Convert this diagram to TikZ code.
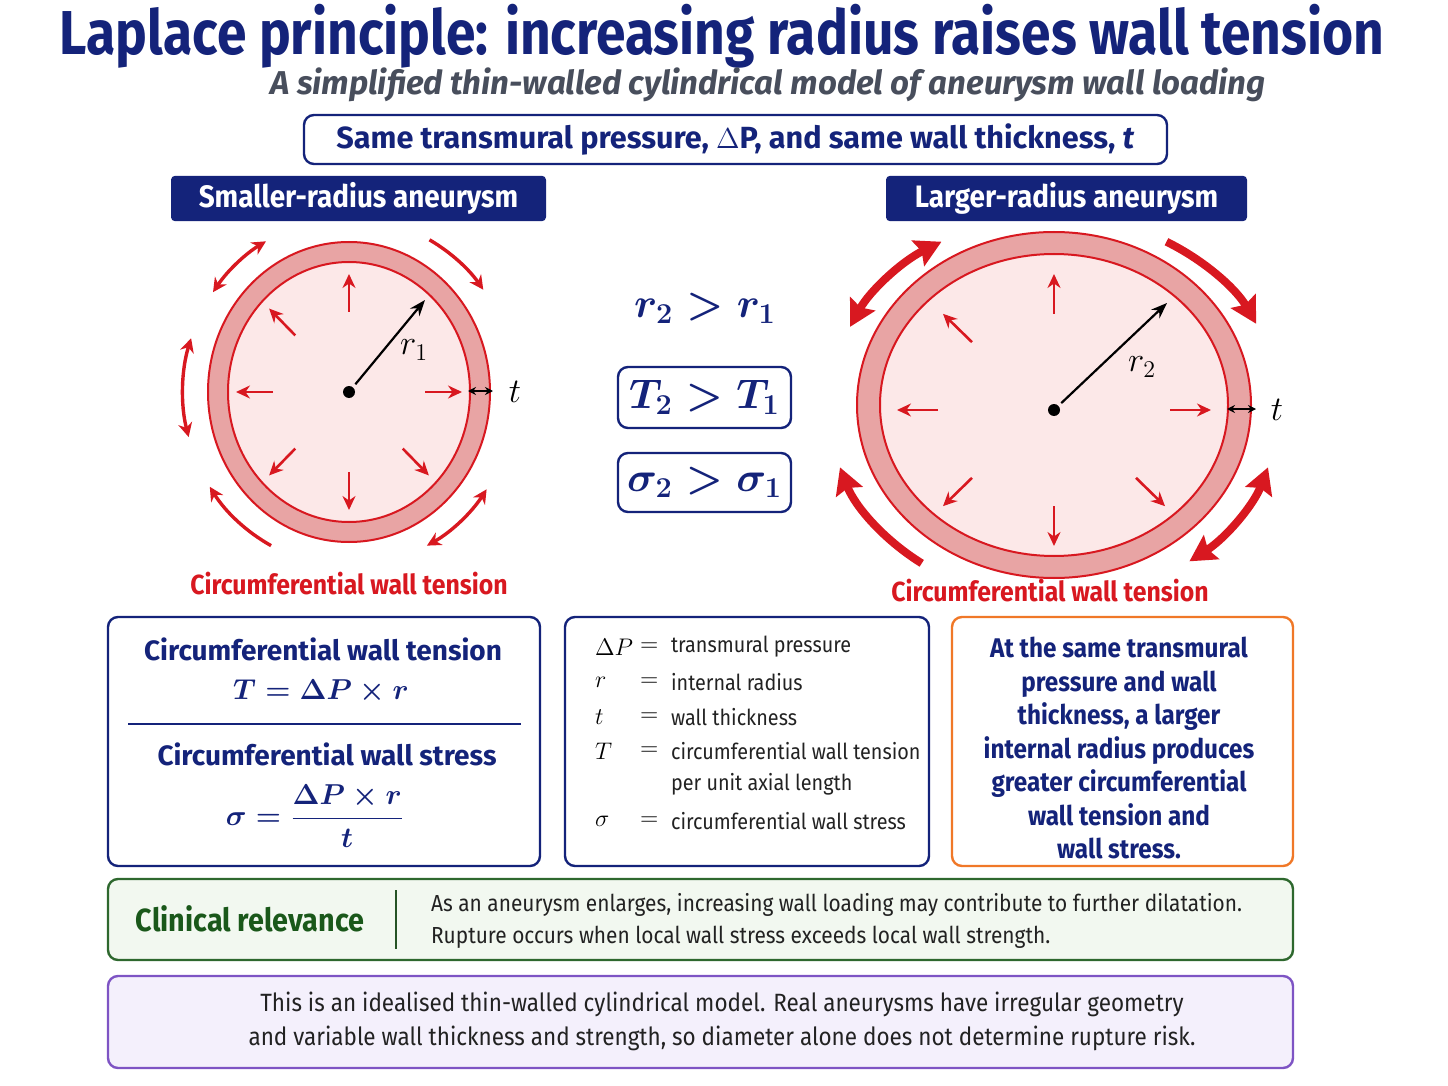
\documentclass[tikz,border=0pt]{standalone}
\usepackage{amsmath}
\usepackage{fontspec}
\setmainfont{Fira Sans}[FakeStretch=0.90]
\newfontfamily\titlefont{Fira Sans}[FakeStretch=0.86]
\newfontfamily\widefont{Fira Sans}[FakeStretch=1.0]
\usetikzlibrary{arrows.meta,positioning}

\definecolor{navy}{RGB}{20,35,122}
\definecolor{wallred}{RGB}{216,24,32}
\definecolor{wallfill}{RGB}{232,164,164}
\definecolor{lumenfill}{RGB}{252,232,232}
\definecolor{subgrey}{RGB}{72,78,92}
\definecolor{boxorange}{RGB}{240,120,40}
\definecolor{boxgreen}{RGB}{46,104,46}
\definecolor{greenfill}{RGB}{242,248,240}
\definecolor{greentext}{RGB}{26,88,26}
\definecolor{boxpurple}{RGB}{126,84,196}
\definecolor{purplefill}{RGB}{244,240,252}
\definecolor{inkgrey}{RGB}{34,34,34}

\begin{document}
\begin{tikzpicture}[x=0.5pt,y=0.5pt,
    maintitle/.style={font=\titlefont\bfseries\fontsize{31}{36}\selectfont,text=navy},
    subtitle/.style={font=\widefont\bfseries\itshape\fontsize{16.5}{20}\selectfont,text=subgrey},
    framebox/.style={draw=navy,line width=1.2pt,rounded corners=5pt,fill=white},
    tagbox/.style={fill=navy,rounded corners=2pt,text=white,
        font=\bfseries\fontsize{15.5}{18}\selectfont,minimum width=187.5pt,minimum height=20.5pt},
    headtext/.style={font=\widefont\bfseries\fontsize{14}{17}\selectfont,text=navy},
    redlabel/.style={font=\bfseries\fontsize{13.8}{16}\selectfont,text=wallred},
    wall/.style={draw=wallred,line width=1pt,fill=wallfill},
    lumen/.style={draw=wallred,line width=1pt,fill=lumenfill},
    parrow/.style={wallred,line width=1.3pt,-{Stealth[length=7pt,width=6.5pt]}},
    radarrow/.style={line width=1.1pt,-{Stealth[length=8pt,width=6pt]}},
    tarrow/.style={line width=1pt,{Stealth[length=4pt,width=4pt]}-{Stealth[length=4pt,width=4pt]}},
    tens/.style={wallred,line width=1.7pt},
    bigtens/.style={wallred,line width=4pt},
    onetip/.style={arrows={-Stealth[length=7pt,width=7pt]}},
    twotips/.style={arrows={Stealth[length=7pt,width=7pt]-Stealth[length=7pt,width=7pt]}},
    bigonetip/.style={arrows={-Stealth[length=13pt,width=14pt,inset=2pt]}},
    bigtwotips/.style={arrows={Stealth[length=13pt,width=14pt,inset=2pt]-Stealth[length=13pt,width=14pt,inset=2pt]}},
    mathtext/.style={font=\fontsize{14.5}{17}\selectfont\boldmath,text=navy},
    cmptext/.style={text=navy,font=\fontsize{20}{24}\selectfont\boldmath},
    legsym/.style={font=\fontsize{12.5}{15}\selectfont,anchor=west,text=black},
    legtext/.style={font=\fontsize{11}{15}\selectfont,anchor=west,text=inkgrey,align=left},
  ]
  \useasboundingbox (0,0) rectangle (1448,-1086);

  % heading
  \node[maintitle] (title) at (722,-36) {Laplace principle: increasing radius raises wall tension};
  \node[subtitle] (sub) at (768,-85) {A simplified thin-walled cylindrical model of aneurysm wall loading};
  \node[framebox,font=\widefont\bfseries\fontsize{15.3}{18}\selectfont,text=navy,
        minimum width=431.5pt,minimum height=24.5pt] (same) at (735.5,-139.5)
    {Same transmural pressure, $\Delta$P, and same wall thickness, \textit{t}};

  % smaller radius
  \node[tagbox] (tagS) at (358.5,-198.5) {Smaller-radius aneurysm};
  \coordinate (c1) at (349,-392);
  \draw[wall] (c1) ellipse [x radius=141,y radius=150];
  \draw[lumen] (c1) ellipse [x radius=121,y radius=130];
  \foreach \a in {0,90,135,...,315}
    \draw[parrow] ([shift={(\a:76 and 80)}]c1) -- ([shift={(\a:113 and 118)}]c1);
  \draw[radarrow,shorten <=5pt] (c1) -- ++(76,92) coordinate (r1end);
  \fill (c1) circle [radius=6];
  \node[font=\fontsize{17}{20}\selectfont] (r1) at (414,-350) {$r_1$};
  \coordinate (t1a) at (468,-391);
  \coordinate (t1b) at (493,-391);
  \draw[tarrow] (t1a) -- (t1b);
  \node[font=\fontsize{17}{20}\selectfont] (t1) at (515,-392) {$t$};
  % tension arcs
  \draw[tens,twotips] ([shift={(145:166 and 174)}]c1) arc [start angle=145,end angle=120,x radius=166,y radius=174];
  \draw[tens,onetip] ([shift={(61:166 and 174)}]c1) arc [start angle=61,end angle=36,x radius=166,y radius=174];
  \draw[tens,twotips] ([shift={(162:166 and 174)}]c1) arc [start angle=162,end angle=195,x radius=166,y radius=174];
  \draw[tens,onetip] ([shift={(242:166 and 174)}]c1) arc [start angle=242,end angle=213,x radius=166,y radius=174];
  \draw[tens,twotips] ([shift={(326:166 and 174)}]c1) arc [start angle=326,end angle=298,x radius=166,y radius=174];
  \node[redlabel] (tenS) at (349,-584) {Circumferential wall tension};

  % larger radius
  \node[tagbox,minimum width=180.5pt] (tagL) at (1066.5,-198.5) {Larger-radius aneurysm};
  \coordinate (e2) at (1054,-405);
  \coordinate (c2) at (1054,-410);
  \draw[wall] (e2) ellipse [x radius=197,y radius=173];
  \draw[lumen] (e2) ellipse [x radius=174,y radius=151];
  \foreach \a in {0,90,135,...,315}
    \draw[parrow] ([shift={(\a:116 and 96)}]c2) -- ([shift={(\a:157 and 136)}]c2);
  \draw[radarrow,shorten <=5pt] (c2) -- ++(113,107) coordinate (r2end);
  \fill (c2) circle [radius=6];
  \node[font=\fontsize{17}{20}\selectfont] (r2) at (1142,-367) {$r_2$};
  \coordinate (t2a) at (1227,-409);
  \coordinate (t2b) at (1256,-409);
  \draw[tarrow] (t2a) -- (t2b);
  \node[font=\fontsize{17}{20}\selectfont] (t2) at (1277,-410) {$t$};
  \coordinate (c2t) at (1054,-408);
  \draw[bigtens,bigtwotips] ([shift={(155:225 and 192)}]c2t) arc [start angle=155,end angle=120,x radius=225,y radius=192];
  \draw[bigtens,bigonetip] ([shift={(60:225 and 192)}]c2t) arc [start angle=60,end angle=26,x radius=225,y radius=192];
  \draw[bigtens,bigonetip] ([shift={(234:225 and 192)}]c2t) arc [start angle=234,end angle=198,x radius=225,y radius=192];
  \draw[bigtens,bigtwotips] ([shift={(342:225 and 192)}]c2t) arc [start angle=342,end angle=307,x radius=225,y radius=192];
  \node[redlabel] (tenL) at (1050,-591) {Circumferential wall tension};

  % comparison
  \node[cmptext,font=\fontsize{21}{24}\selectfont\boldmath] (rcmp) at (705,-308) {$r_2 > r_1$};
  \node[framebox,cmptext,minimum width=86.5pt,minimum height=30.5pt] (Tcmp) at (704.5,-397.5) {$T_2 > T_1$};
  \node[framebox,cmptext,minimum width=86.5pt,minimum height=29.5pt] (scmp) at (704.5,-482.5) {$\sigma_2 > \sigma_1$};

  % formula box
  \draw[framebox] (108,-617) rectangle (540,-866);
  \node[headtext] (hT) at (323,-649) {Circumferential wall tension};
  \node[mathtext] (fT) at (321,-692) {$T = \Delta P \times r$};
  \draw[navy,line width=1.2pt] (128,-724) -- (521,-724);
  \node[headtext] (hS) at (327,-754) {Circumferential wall stress};
  \node[mathtext] (fS) at (315,-816) {$\sigma = \dfrac{\Delta P \times r}{t}$};

  % legend box
  \draw[framebox] (565,-617) rectangle (929,-866);
  \foreach \y/\s/\t in {647/\Delta P/transmural pressure, 682/r/internal radius,
      717/t/wall thickness, 751/T/circumferential wall tension, 821/\sigma/circumferential wall stress}{
    \node[legsym] at (588,-\y) {$\s$};
    \node[legsym] at (633,-\y) {$=$};
    \node[legtext] at (664,-\y) {\t};
  }
  \node[legtext] (perunit) at (664,-784) {per unit axial length};

  % conclusion box
  \draw[framebox,draw=boxorange] (952,-617) rectangle (1293,-866);
  \node[font=\bfseries\fontsize{13.5}{16.75}\selectfont,text=navy,align=center] (concl) at (1119,-748)
    {At the same transmural\\pressure and wall\\thickness, a larger\\internal radius produces\\greater circumferential\\wall tension and\\wall stress.};

  % clinical relevance
  \draw[line width=1.2pt,draw=boxgreen,fill=greenfill,rounded corners=5pt] (108,-879) rectangle (1293,-960);
  \node[font=\bfseries\fontsize{16}{18}\selectfont,text=greentext] (clin) at (250,-919) {Clinical relevance};
  \draw[boxgreen!80!black,line width=1pt] (396,-890) -- (396,-949);
  \node[legtext,font=\fontsize{11.6}{15}\selectfont] (clintext) at (424,-921)
    {As an aneurysm enlarges, increasing wall loading may contribute to further dilatation.\\[1pt]Rupture occurs when local wall stress exceeds local wall strength.};

  % caveat
  \draw[line width=1.2pt,draw=boxpurple,fill=purplefill,rounded corners=5pt] (108,-976) rectangle (1293,-1068);
  \node[font=\fontsize{12.5}{17}\selectfont,text=inkgrey,align=center] (caveat) at (722,-1021)
    {This is an idealised thin-walled cylindrical model. Real aneurysms have irregular geometry\\and variable wall thickness and strength, so diameter alone does not determine rupture risk.};
\end{tikzpicture}
\end{document}
